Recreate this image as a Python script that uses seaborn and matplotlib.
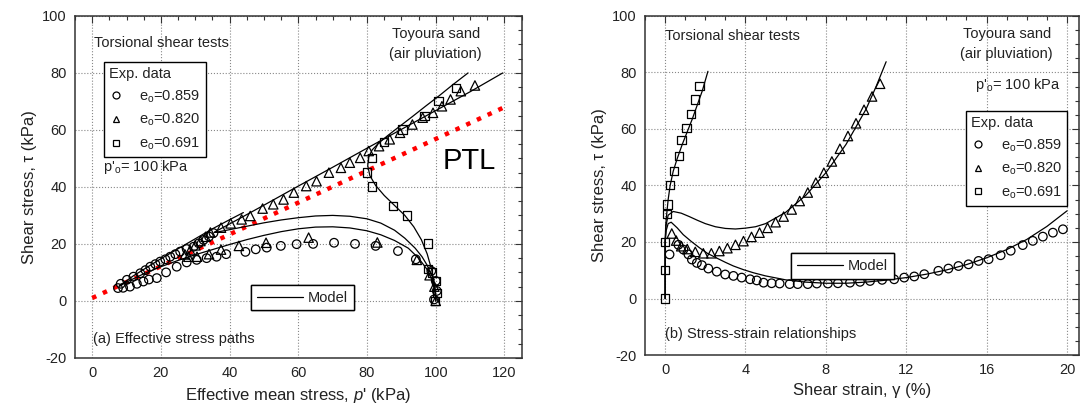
import numpy as np
import pandas as pd
import matplotlib
matplotlib.use("Agg")
import matplotlib.pyplot as plt
import matplotlib.ticker as mticker
from matplotlib.lines import Line2D
import seaborn as sns

# %% Datos

# (a) trayectorias de tensiones efectivas: p' (kPa), tau (kPa)
circ_p = [99.5, 100.3, 100, 98.7, 94.2, 89, 82.5, 76.5, 70.4, 64.3, 59.5, 54.9, 50.8, 47.6, 44.6,
          39, 36.2, 33.3, 30.4, 27.5, 24.6, 21.5, 18.8, 16.5, 14.9, 13, 11, 9, 7.5, 8.3, 10.1, 12,
          14, 15.5, 16.9, 18.4, 19.8, 21.3, 22.7, 24.2, 25.6, 27.5, 29.5, 31, 32.4, 34, 35.3]
circ_t = [0.5, 3.5, 7, 10.5, 14.6, 17.5, 19.3, 20, 20.4, 20, 19.9, 19.3, 18.7, 18.1, 17.2,
          16.4, 15.5, 15, 14.4, 13.5, 12, 10, 8, 7.5, 6.8, 6, 5, 4.6, 4.5, 6, 7.4, 8.5,
          9.7, 10.8, 12, 12.9, 13.8, 14.6, 15.5, 16.4, 17.3, 18.2, 19, 20.2, 21.4, 22.6, 23.8]

tri_p = [100, 99.6, 98.2, 94.5, 83, 63, 50.6, 42.7, 37.5, 34, 30.5, 28, 27, 28.5, 30, 31.5, 33,
         34.4, 37.5, 40.3, 43.5, 46, 49.6, 52.7, 55.7, 58.7, 62.3, 65.3, 68.9, 72.4, 75, 78, 80.5,
         83.5, 86.6, 89.6, 93.2, 96.2, 99.2, 101.8, 104.3, 107.3, 111.4]
tri_t = [0, 5, 9, 14.4, 20.5, 22.2, 20.4, 19.3, 18, 16.4, 15.5, 15.5, 16.3, 17.8, 19.5, 21, 22.5,
         24, 25.7, 27.2, 28.6, 29.8, 32.4, 33.9, 35.6, 38, 40.3, 42, 45, 46.7, 48.5, 50.2, 52.6,
         54.3, 56.7, 59, 61.9, 64.3, 66, 68.3, 70.7, 73.6, 75.6]

sq_p = [99.7, 100.3, 100, 99, 97.7, 97.7, 91.6, 87.6, 81.5, 80, 81.5, 84.9, 90.3, 96.7, 100.8, 105.8]
sq_t = [0, 2.7, 7, 10, 11.1, 20.1, 30, 33.3, 40.1, 45, 50.2, 55.7, 60.2, 64.9, 70.1, 74.8]

# modelo
mod1_p = [100, 99.8, 99, 97.5, 95, 92, 88, 84, 80, 75, 70, 65, 60, 55, 50, 45, 40, 35, 30, 25,
          20, 15, 11, 8.5, 8, 9, 12, 16, 20, 25, 30, 35, 40, 44]
mod1_t = [0, 3, 7, 11, 15, 18.5, 21.2, 23.2, 24.6, 25.6, 26, 25.9, 25.3, 24.3, 23, 21.5, 19.8,
          18, 16.2, 14.2, 12, 9.5, 7.2, 5.6, 5.2, 6.2, 8.8, 11.8, 14.8, 18.3, 21.8, 25.3, 28.5, 31]

mod2_p = [100, 99.8, 99, 97.5, 96, 94, 91, 88, 84, 80, 75, 70, 65, 60, 55, 50, 45, 40, 37, 35.5,
          36, 40, 50, 60, 70, 80, 90, 100, 110, 119.5]
mod2_t = [0, 4, 8.5, 12.5, 15.5, 18.5, 22, 24.8, 27.3, 28.8, 29.7, 30, 29.8, 29.2, 28.4, 27.4,
          26.2, 25, 24.3, 24, 24.4, 27, 33.6, 40.3, 46.9, 53.6, 60.2, 66.8, 73.4, 80]

mod3_p = [100, 100, 99.6, 98.8, 97.5, 95.8, 93.6, 91, 88, 85, 82.5, 80.8, 80.2, 80.5, 81.5, 83.5,
          86, 89, 93, 97, 101, 105, 109.4]
mod3_t = [0, 2, 6, 11, 16.5, 21.5, 26, 30, 33.5, 37, 40.5, 44, 47.5, 50.5, 53, 55.5, 58, 60.8,
          64.5, 68.3, 72, 75.9, 80]

ptl_p = [0, 120]
ptl_t = [1, 68]

# (b) tension - deformacion: gamma (%), tau (kPa)
circ_g = [0.22, 0.66, 0.91, 1.16, 1.33, 1.58, 1.83, 2.15, 2.57, 2.99, 3.4, 3.81, 4.23, 4.56, 4.9,
          5.3, 5.7, 6.2, 6.6, 7.1, 7.55, 8.1, 8.6, 9.2, 9.7, 10.2, 10.8, 11.4, 11.9, 12.4, 12.9,
          13.6, 14.1, 14.6, 15.1, 15.6, 16.1, 16.7, 17.2, 17.8, 18.3, 18.8, 19.3, 19.8]
circ_gt = [15.6, 19, 17.3, 15.6, 13.8, 12.6, 11.8, 10.6, 9.5, 8.5, 8, 7.4, 6.8, 6.4, 5.6,
           5.4, 5.3, 5.1, 5.1, 5.1, 5.3, 5.3, 5.4, 5.6, 5.9, 6.2, 6.6, 6.8, 7.4, 7.8, 8.6,
           9.8, 10.6, 11.5, 12.1, 13.3, 13.9, 15.3, 16.9, 18.9, 20.4, 21.9, 23.3, 24.5]

tri_g = [0.33, 0.55, 0.8, 1.1, 1.5, 1.9, 2.3, 2.7, 3.1, 3.5, 3.9, 4.3, 4.7, 5.1, 5.5, 5.9, 6.3,
         6.7, 7.1, 7.5, 7.9, 8.3, 8.7, 9.1, 9.5, 9.9, 10.3, 10.7]
tri_gt = [23, 20.5, 18.5, 17.5, 16.5, 16, 16, 16.8, 17.8, 19, 20.3, 21.8, 23.3, 25, 27, 29, 31.5,
          34.5, 37.5, 41, 44.5, 48.5, 53, 57.5, 62, 66.8, 71.5, 76]

sq_g = [0, 0, 0, 0.09, 0.12, 0.24, 0.43, 0.69, 0.81, 1.07, 1.3, 1.47, 1.71]
sq_gt = [0, 10.1, 20, 30, 33.3, 40.1, 45.2, 50.4, 56.2, 60.4, 65.3, 70.4, 75.3]

mod1_g = [0, 0, 0.05, 0.15, 0.3, 0.6, 0.9, 1.3, 1.7, 2.1, 2.6, 3.0, 3.4, 3.9, 4.4, 5.0, 6.0, 7.0,
          8.0, 9.0, 10, 11, 12, 13, 14, 15, 16, 17, 18, 19, 20]
mod1_gt = [0, 20, 24, 26.5, 27, 25, 22.6, 20.2, 18, 16, 14.2, 12.8, 11.5, 10.2, 9.1, 8, 6.6, 5.8,
           5.4, 5.4, 5.8, 6.5, 7.4, 8.6, 10.1, 12, 14.4, 17.3, 20.9, 25.5, 31]

mod2_g = [0, 0, 0.05, 0.15, 0.4, 0.8, 1.2, 1.6, 2.0, 2.5, 3.0, 3.5, 4.0, 4.5, 5.0, 6.0, 7.0, 8.0,
          9.0, 10.0, 10.5, 11.0]
mod2_gt = [0, 20, 26, 29.5, 30.8, 30.2, 29, 27.7, 26.5, 25.4, 24.8, 24.6, 24.9, 25.4, 26.5, 30.5,
           36.5, 44.5, 54.5, 67, 75, 83.8]

mod3_g = [0, 0, 0.03, 0.08, 0.15, 0.25, 0.4, 0.6, 0.85, 1.1, 1.35, 1.6, 1.85, 2.13]
mod3_gt = [0, 20, 26, 30, 35, 40, 45, 49.5, 54.5, 59, 63.5, 68.5, 73.5, 80.4]

etiquetas = [r'e$_{\rm o}$=0.859', r'e$_{\rm o}$=0.820', r'e$_{\rm o}$=0.691']
marcadores = ['o', '^', 's']

# %% Estilo
sns.set_style('white')
plt.rcParams['font.family'] = ['Liberation Sans', 'DejaVu Sans']
plt.rcParams['mathtext.fontset'] = 'custom'
plt.rcParams['mathtext.rm'] = 'Liberation Sans'
plt.rcParams['mathtext.it'] = 'Liberation Sans:italic'
plt.rcParams['axes.unicode_minus'] = False
plt.rcParams['text.color'] = '#222222'

GRIS = '#222222'
TAM_MARCADOR = {'o': 38, '^': 46, 's': 36}


def dibujar_linea(ax, x, y, **kw):
    sns.lineplot(x=x, y=y, sort=False, estimator=None, ax=ax, color='black', lw=0.9, **kw)


def dibujar_puntos(ax, x, y, m):
    sns.scatterplot(x=x, y=y, marker=m, s=TAM_MARCADOR[m], facecolor='none', edgecolor='black',
                    linewidth=0.9, ax=ax, zorder=3)


def formato_ejes(ax, xlim, xmaj, xmin):
    ax.set_xlim(*xlim)
    ax.set_ylim(-20, 100)
    ax.xaxis.set_major_locator(mticker.MultipleLocator(xmaj))
    ax.xaxis.set_minor_locator(mticker.MultipleLocator(xmin))
    ax.yaxis.set_major_locator(mticker.MultipleLocator(20))
    ax.yaxis.set_minor_locator(mticker.MultipleLocator(5))
    ax.tick_params(which='both', direction='in', top=True, right=True, labelsize=10.5,
                   labelcolor=GRIS, color='#333333')
    ax.tick_params(which='major', length=5, width=0.8, pad=6)
    ax.tick_params(which='minor', length=3, width=0.8)
    ax.grid(True, which='major', ls=':', color='#888888', lw=0.8)
    for s in ax.spines.values():
        s.set_color('#333333')
        s.set_linewidth(1.1)


def leyenda_exp(ax, anchor):
    handles = [Line2D([], [], marker=m, ls='none', mfc='none', mec='black', ms=5, mew=0.9)
               for m in marcadores]
    leg = ax.legend(handles, etiquetas, title='Exp. data', loc='upper left',
                    bbox_to_anchor=anchor, frameon=True, fancybox=False, edgecolor='black',
                    alignment='left', handlelength=1.0, handletextpad=1.1, borderpad=0.35,
                    labelspacing=0.5, fontsize=10.5, title_fontsize=10.5, framealpha=1)
    leg.get_frame().set_linewidth(1.0)
    ax.add_artist(leg)


def leyenda_modelo(ax, anchor):
    leg = ax.legend([Line2D([], [], color='black', lw=0.9)], ['Model'], loc='upper left',
                    bbox_to_anchor=anchor, frameon=True, fancybox=False, edgecolor='black',
                    handlelength=3.2, handletextpad=0.3, borderpad=0.4, fontsize=10.5,
                    framealpha=1)
    leg.get_frame().set_linewidth(1.0)
    ax.add_artist(leg)


fig = plt.figure(figsize=(10.92, 4.09), dpi=100)
ax1 = fig.add_axes([0.0687, 0.125, 0.409, 0.836])
ax2 = fig.add_axes([0.5907, 0.132, 0.3974, 0.829])

# %% (a) trayectorias de tensiones
sns.lineplot(x=ptl_p, y=ptl_t, ax=ax1, color='red', lw=3.2, ls=':', zorder=2)
for px, ty in [(mod1_p, mod1_t), (mod2_p, mod2_t), (mod3_p, mod3_t)]:
    dibujar_linea(ax1, px, ty)
for px, ty, m in [(circ_p, circ_t, 'o'), (tri_p, tri_t, '^'), (sq_p, sq_t, 's')]:
    dibujar_puntos(ax1, px, ty, m)

formato_ejes(ax1, (-5, 125), 20, 5)
ax1.set_xlabel(r"Effective mean stress, $\it{p}$' (kPa)", fontsize=12, color=GRIS)
ax1.set_ylabel('Shear stress, τ (kPa)', fontsize=12, color=GRIS)
ax1.text(0.5, 89, 'Torsional shear tests', fontsize=10.5)
ax1.text(100, 93.5, 'Toyoura sand', fontsize=10.5, ha='center', va='center')
ax1.text(100, 86.5, '(air pluviation)', fontsize=10.5, ha='center', va='center')
ax1.text(3, 47, r"p'$_{\rm o}$= 100 kPa", fontsize=10.5, va='center')
ax1.text(102, 49, 'PTL', fontsize=21, va='center', color='black')
ax1.text(0.3, -13.5, '(a) Effective stress paths', fontsize=10.5, va='center')
leyenda_exp(ax1, (0.048, 0.887))
leyenda_modelo(ax1, (0.377, 0.235))

# %% (b) tension - deformacion
for gx, ty in [(mod1_g, mod1_gt), (mod2_g, mod2_gt), (mod3_g, mod3_gt)]:
    dibujar_linea(ax2, gx, ty)
for gx, ty, m in [(circ_g, circ_gt, 'o'), (tri_g, tri_gt, '^'), (sq_g, sq_gt, 's')]:
    dibujar_puntos(ax2, gx, ty, m)

formato_ejes(ax2, (-1, 20.6), 4, 1)
ax2.set_xlabel('Shear strain, γ (%)', fontsize=12, color=GRIS)
ax2.set_ylabel('Shear stress, τ (kPa)', fontsize=12, color=GRIS)
ax2.text(0, 93, 'Torsional shear tests', fontsize=10.5, va='center')
ax2.text(17, 93.5, 'Toyoura sand', fontsize=10.5, ha='center', va='center')
ax2.text(17, 86.5, '(air pluviation)', fontsize=10.5, ha='center', va='center')
ax2.text(19.7, 75.5, r"p'$_{\rm o}$= 100 kPa", fontsize=10.5, ha='right', va='center')
ax2.text(0, -12.5, '(b) Stress-strain relationships', fontsize=10.5, va='center')
leyenda_exp(ax2, (0.722, 0.742))
leyenda_modelo(ax2, (0.319, 0.322))

fig.savefig('out.png', dpi=100)
